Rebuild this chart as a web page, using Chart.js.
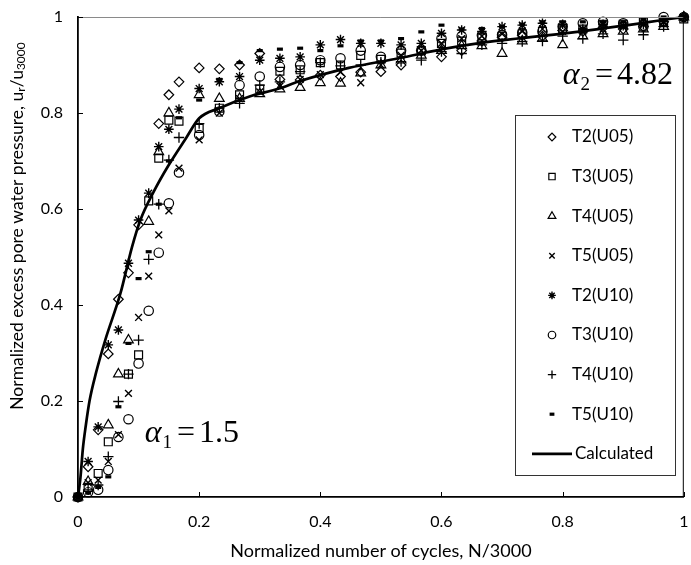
<!DOCTYPE html>
<html><head><meta charset="utf-8">
<script src="https://cdn.jsdelivr.net/npm/chart.js@4.4.1/dist/chart.umd.min.js"></script>
<style>html,body{margin:0;padding:0;background:#fff;}#wrap{width:691px;height:565px;position:relative;}</style>
</head><body><div id="wrap"><canvas id="c" width="691" height="565"></canvas></div>
<script>
// ---- data ----
const xValues = [0, 0.0167, 0.0333, 0.05, 0.0667, 0.0833, 0.1, 0.1167, 0.1333, 0.15, 0.1667, 0.2,
  0.2333, 0.2667, 0.3, 0.3333, 0.3667, 0.4, 0.4333, 0.4667, 0.5, 0.5333, 0.5667, 0.6, 0.6333, 0.6667,
  0.7, 0.7333, 0.7667, 0.8, 0.8333, 0.8667, 0.9, 0.9333, 0.9667, 1.0];
const yT2U05 = [0, 0.063, 0.14, 0.298, 0.412, 0.467, 0.567, null, 0.778, 0.838, 0.865, 0.894,
  0.892, 0.9, 0.924, 0.87, 0.869, 0.879, 0.876, 0.885, 0.886, 0.9, 0.93, 0.917, 0.93, 0.95,
  0.958, 0.962, 0.96, 0.972, 0.97, 0.978, 0.975, 0.98, 0.99, 1];
const yT3U05 = [0, 0.02, 0.049, 0.115, null, 0.256, 0.296, 0.617, 0.706, 0.785, 0.783, 0.768,
  0.81, 0.838, 0.85, 0.887, 0.89, 0.905, 0.9, 0.92, 0.912, 0.925, 0.93, 0.945, 0.95, 0.958,
  0.96, 0.965, 0.97, 0.975, 0.975, 0.985, 0.985, 0.99, 0.99, 0.996];
const yT4U05 = [0, 0.032, null, 0.15, 0.256, 0.327, null, 0.574, 0.719, 0.8, null, 0.838,
  0.83, 0.83, 0.84, 0.85, 0.853, 0.863, 0.862, 0.883, 0.9, 0.91, 0.92, 0.93, 0.94, 0.94,
  0.924, 0.95, 0.955, 0.942, 0.96, 0.965, 0.97, 0.975, 0.98, 1];
const yT5U05 = [0, 0.03, 0.035, 0.074, 0.13, 0.216, 0.374, 0.46, 0.546, 0.596, 0.685, 0.744,
  0.8, 0.83, 0.844, 0.856, 0.87, 0.88, 0.885, 0.863, 0.9, 0.92, 0.93, 0.945, 0.955, 0.96,
  0.965, 0.97, 0.975, 0.97, 0.97, 0.975, 0.98, 0.985, 0.99, 1];
const yT2U10 = [0, 0.074, 0.146, 0.317, 0.348, 0.487, 0.577, 0.633, 0.73, 0.766, 0.808, 0.851,
  0.865, 0.876, 0.91, 0.914, 0.917, 0.942, 0.953, 0.945, 0.945, 0.942, 0.945, 0.966, 0.973, 0.97,
  0.98, 0.983, 0.987, 0.985, 0.975, 0.985, 0.982, 0.985, 0.99, 1];
const yT3U10 = [0, 0.01, 0.015, 0.056, 0.125, 0.162, 0.278, 0.388, 0.509, 0.612, 0.676, 0.754,
  0.803, 0.858, 0.876, 0.896, 0.9, 0.91, 0.914, 0.93, 0.917, 0.93, 0.93, 0.955, 0.96, 0.962,
  0.963, 0.967, 0.97, 0.98, 0.987, 0.99, 0.987, 0.98, 1.0, 1.0];
const yT4U10 = [0, 0.015, 0.025, 0.084, 0.199, 0.256, 0.327, 0.495, 0.61, 0.702, 0.749, 0.778,
  0.81, 0.82, 0.858, 0.865, 0.886, 0.905, 0.898, 0.9, 0.906, 0.907, 0.91, 0.928, 0.924, 0.942,
  0.945, 0.949, 0.95, 0.96, 0.955, 0.965, 0.952, 0.963, 0.98, 1];
const yT5U10 = [0, 0.008, 0.02, 0.042, 0.188, 0.32, 0.455, 0.511, 0.61, 0.7, 0.79, 0.827,
  0.87, 0.905, 0.93, 0.933, 0.935, 0.93, 0.94, 0.95, 0.95, 0.955, 0.969, 0.983, 0.975, 0.976,
  0.98, 0.985, 0.99, 0.99, 0.99, 0.99, 0.99, 0.995, 1, 1];
const calcX = [0, 0.004, 0.008, 0.013, 0.019, 0.03, 0.045, 0.07, 0.089, 0.103, 0.125, 0.149, 0.178, 0.2,
  0.233, 0.282, 0.332, 0.365, 0.447, 0.529, 0.611, 0.66, 0.824, 1.0];
const calcY = [0, 0.04, 0.1, 0.15, 0.2, 0.26, 0.327, 0.424, 0.52, 0.577, 0.636, 0.69, 0.747, 0.789,
  0.81, 0.834, 0.851, 0.866, 0.894, 0.914, 0.935, 0.945, 0.969, 1.0];
const seriesNames = ['T2(U05)', 'T3(U05)', 'T4(U05)', 'T5(U05)', 'T2(U10)', 'T3(U10)', 'T4(U10)', 'T5(U10)'];
const lineName = 'Calculated';
const xTickLabels = ['0', '0.2', '0.4', '0.6', '0.8', '1'];
const yTickLabels = ['0', '0.2', '0.4', '0.6', '0.8', '1'];
const xTitle = 'Normalized number of cycles, N/3000';
const yTitleParts = [['Normalized excess pore water pressure, u', false], ['r', true], ['/u', false], ['3000', true]];
const alpha1 = ['1', '1.5'];
const alpha2 = ['2', '4.82'];

// ---- styles ----
const seriesY = [yT2U05, yT3U05, yT4U05, yT5U05, yT2U10, yT3U10, yT4U10, yT5U10];
const markerStyles = [
  {pointStyle: 'rectRot', radius: 4.8, borderWidth: 1.2},
  {pointStyle: 'rect', radius: 5.6, borderWidth: 1.2},
  {pointStyle: 'triangle', radius: 5.6, borderWidth: 1.2},
  {pointStyle: 'crossRot', radius: 4.8, borderWidth: 1.4},
  {pointStyle: 'star', radius: 4.8, borderWidth: 1.4},
  {pointStyle: 'circle', radius: 4.7, borderWidth: 1.2},
  {pointStyle: 'cross', radius: 5.2, borderWidth: 1.3},
  {pointStyle: 'line', radius: 3, borderWidth: 3.2},
];

function pts(ys) {
  const out = [];
  ys.forEach((y, i) => { if (y !== null) out.push({x: xValues[i], y: y}); });
  return out;
}

const datasets = seriesY.map((ys, k) => ({
  label: seriesNames[k],
  data: pts(ys),
  pointStyle: markerStyles[k].pointStyle,
  pointRadius: markerStyles[k].radius,
  pointBorderWidth: markerStyles[k].borderWidth,
  pointBorderColor: '#000',
  pointBackgroundColor: 'rgba(0,0,0,0)',
  borderColor: '#000',
  backgroundColor: 'rgba(0,0,0,0)',
  showLine: false,
  clip: false
}));
datasets.push({
  label: lineName,
  data: calcX.map((x, i) => ({x: x, y: calcY[i]})),
  showLine: true,
  borderColor: '#000',
  borderWidth: 2.7,
  pointRadius: 0,
  cubicInterpolationMode: 'monotone',
  fill: false,
  clip: false
});

Chart.defaults.font.family = 'Lato';
Chart.defaults.color = '#000';

const framePlugin = {
  id: 'frame',
  afterDraw(chart) {
    const {ctx, chartArea: a, scales} = chart;
    ctx.save();
    ctx.strokeStyle = '#8a8a8a'; ctx.lineWidth = 1;
    ctx.beginPath(); ctx.moveTo(a.left, a.top + 0.5); ctx.lineTo(a.right, a.top + 0.5); ctx.stroke();
    ctx.strokeStyle = '#000';
    ctx.beginPath(); ctx.moveTo(a.right - 0.5, a.top); ctx.lineTo(a.right - 0.5, a.bottom); ctx.stroke();
    ctx.lineWidth = 1;
    scales.x.ticks.forEach(t => {
      const px = Math.round(scales.x.getPixelForValue(t.value)) + 0.5;
      ctx.beginPath(); ctx.moveTo(px, a.bottom); ctx.lineTo(px, a.bottom - 5); ctx.stroke();
    });
    scales.y.ticks.forEach(t => {
      const py = Math.round(scales.y.getPixelForValue(t.value)) + 0.5;
      ctx.beginPath(); ctx.moveTo(a.left, py); ctx.lineTo(a.left + 5, py); ctx.stroke();
    });
    // y title with subscripts
    const mainF = '17.5px Lato', subF = '12px Lato';
    let total = 0;
    yTitleParts.forEach(p => { ctx.font = p[1] ? subF : mainF; total += ctx.measureText(p[0]).width; });
    ctx.translate(17, 226);
    ctx.rotate(-Math.PI / 2);
    ctx.fillStyle = '#000';
    ctx.textBaseline = 'middle';
    ctx.textAlign = 'left';
    let cx = -total / 2;
    yTitleParts.forEach(p => {
      ctx.font = p[1] ? subF : mainF;
      ctx.fillText(p[0], cx, p[1] ? 4 : 0);
      cx += ctx.measureText(p[0]).width;
    });
    ctx.restore();

    function alphaText(xv, yv, sub, val) {
      const x0 = scales.x.getPixelForValue(xv), y0 = scales.y.getPixelForValue(yv);
      ctx.save();
      ctx.fillStyle = '#000';
      ctx.textBaseline = 'alphabetic';
      ctx.textAlign = 'left';
      ctx.font = 'italic 32px "Liberation Serif"';
      ctx.fillText('\u03B1', x0, y0);
      let x = x0 + ctx.measureText('\u03B1').width + 1;
      ctx.font = '19px "Liberation Serif"';
      ctx.fillText(sub, x, y0 + 6);
      x += ctx.measureText(sub).width + 5;
      ctx.font = '32px "Liberation Serif"';
      ctx.fillText('=', x, y0);
      x += ctx.measureText('=').width + 4;
      ctx.fillText(val, x, y0);
      ctx.restore();
    }
    alphaText(0.11, 0.115, alpha1[0], alpha1[1]);
    alphaText(0.8, 0.86, alpha2[0], alpha2[1]);

    // legend
    ctx.save();
    const bx = 515.5, by = 115.5, bw = 160, bh = 360;
    ctx.fillStyle = '#fff';
    ctx.fillRect(bx, by, bw, bh);
    ctx.strokeStyle = '#333'; ctx.lineWidth = 1;
    ctx.strokeRect(bx, by, bw, bh);
    ctx.font = '17px Lato';
    ctx.textBaseline = 'middle';
    ctx.textAlign = 'left';
    seriesNames.forEach((name, i) => {
      const ry = 137 + i * 39.6;
      ctx.strokeStyle = '#000'; ctx.fillStyle = 'rgba(0,0,0,0)';
      ctx.lineWidth = markerStyles[i].borderWidth;
      Chart.helpers.drawPoint(ctx, {pointStyle: markerStyles[i].pointStyle, rotation: 0,
        radius: markerStyles[i].radius * 0.8, borderWidth: markerStyles[i].borderWidth}, 552, ry);
      ctx.fillStyle = '#000';
      ctx.fillText(name, 572, ry);
    });
    const ly = 137 + 8 * 39.6;
    ctx.strokeStyle = '#000'; ctx.lineWidth = 2.7;
    ctx.beginPath(); ctx.moveTo(532, ly); ctx.lineTo(572, ly); ctx.stroke();
    ctx.fillStyle = '#000';
    ctx.fillText(lineName, 575, ly);
    ctx.restore();
  }
};

new Chart(document.getElementById('c'), {
  type: 'scatter',
  data: {datasets: datasets},
  options: {
    responsive: false,
    animation: false,
    layout: {padding: {top: 17, right: 4, left: 0, bottom: 0}},
    plugins: {legend: {display: false}, tooltip: {enabled: false}},
    scales: {
      x: {
        type: 'linear', min: 0, max: 1,
        grid: {display: false, drawTicks: false},
        border: {display: true, color: '#000', width: 1.8},
        ticks: {stepSize: 0.2, padding: 15, maxRotation: 0, font: {size: 16},
          callback: (v, i) => xTickLabels[i]},
        title: {display: true, text: xTitle, font: {size: 18}, padding: {top: 0, bottom: 3}},
        afterFit: s => { s.height = 68; s.paddingLeft = 0; s.paddingRight = 0; }
      },
      y: {
        type: 'linear', min: 0, max: 1,
        grid: {display: false, drawTicks: false},
        border: {display: true, color: '#000', width: 1.8},
        ticks: {stepSize: 0.2, padding: 15, font: {size: 16},
          callback: (v, i) => yTickLabels[i]},
        afterFit: s => { s.width = 78; s.paddingTop = 0; s.paddingBottom = 0; }
      }
    }
  },
  plugins: [framePlugin]
});
</script></body></html>
